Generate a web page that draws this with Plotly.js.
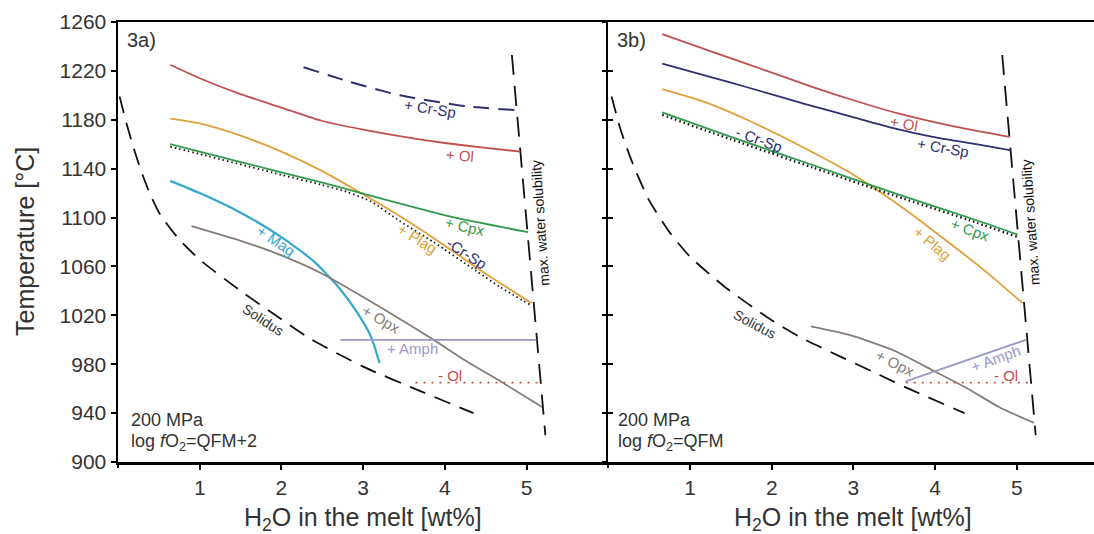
<!DOCTYPE html>
<html>
<head>
<meta charset="utf-8">
<script src="https://cdn.plot.ly/plotly-3.0.1.min.js"></script>
<style>html,body{margin:0;padding:0;background:#fff;}#chart{width:1094px;height:534px;}</style>
</head>
<body>
<div id="chart"></div>
<script>
// ---------- Panel 3a (log fO2 = QFM+2) ----------
const a_ol_x   = [0.64, 1.0, 1.5, 2.0, 2.5, 3.0, 3.5, 4.0, 4.5, 4.92];
const a_ol_t   = [1225, 1214, 1201, 1190, 1179, 1172, 1166, 1161, 1157, 1154];
const a_crsp_x = [2.27, 2.84, 3.45, 4.27, 4.86];
const a_crsp_t = [1223, 1211, 1200, 1191, 1188];
const a_plag_x = [0.64, 1.0, 1.5, 2.0, 2.5, 3.0, 3.5, 4.0, 4.5, 5.06];
const a_plag_t = [1181, 1177, 1167, 1154, 1138, 1119, 1099, 1077, 1054, 1030];
const a_cpx_x  = [0.64, 1.0, 2.0, 2.48, 2.92, 4.06, 5.02];
const a_cpx_t  = [1160, 1154, 1137, 1129, 1121, 1101, 1088];
const a_mcrsp_x = [0.64, 1.0, 2.0, 2.48, 2.8, 3.1, 3.45, 3.86, 4.39, 4.68, 5.06];
const a_mcrsp_t = [1158, 1152, 1135, 1127, 1121, 1113, 1097, 1080, 1056, 1043, 1028];
const a_mag_x  = [0.64, 1.0, 1.5, 2.0, 2.4, 2.7, 2.95, 3.1, 3.2];
const a_mag_t  = [1130, 1120, 1104, 1084, 1064, 1043, 1020, 1002, 981];
const a_opx_x  = [0.9, 1.5, 2.0, 2.5, 3.0, 3.5, 3.86, 4.3, 4.68, 5.19];
const a_opx_t  = [1093, 1081, 1069, 1054, 1035, 1015, 1000, 981, 966, 945];
const a_amph_x = [2.72, 5.12];
const a_amph_t = [1000, 1000];
const a_mol_x  = [3.64, 5.16];
const a_mol_t  = [965, 965];
const a_sol_x  = [0.02, 0.1, 0.2, 0.3, 0.4, 0.52, 0.75, 1.01, 1.5, 1.95, 2.35, 3.0, 3.7, 4.35];
const a_sol_t  = [1199, 1178, 1155, 1135, 1118, 1102, 1082, 1065, 1040, 1019, 1001, 978, 958, 940];

// ---------- Panel 3b (log fO2 = QFM) ----------
const b_ol_x   = [0.66, 1.3, 1.94, 2.45, 2.95, 3.56, 4.2, 4.91];
const b_ol_t   = [1250, 1235, 1220, 1208, 1197, 1185, 1175, 1166];
const b_crsp_x = [0.66, 1.2, 1.73, 2.4, 2.95, 3.5, 3.97, 4.5, 4.93];
const b_crsp_t = [1226, 1216, 1206, 1193, 1183, 1173, 1166, 1160, 1155];
const b_plag_x = [0.66, 1.2, 1.73, 2.34, 2.95, 3.56, 4.0, 4.58, 5.07];
const b_plag_t = [1205, 1194, 1179, 1159, 1137, 1110, 1088, 1058, 1030];
const b_cpx_x  = [0.66, 1.5, 2.5, 3.5, 4.5, 5.01];
const b_cpx_t  = [1186, 1166, 1143, 1120, 1098, 1086];
const b_mcrsp_x = [0.66, 1.5, 2.5, 3.5, 4.5, 5.01];
const b_mcrsp_t = [1184, 1164, 1141, 1118, 1096, 1084];
const b_opx_x  = [2.48, 2.95, 3.5, 3.97, 4.4, 4.78, 5.21];
const b_opx_t  = [1011, 1004, 991, 975, 960, 945, 932];
const b_amph_x = [3.64, 5.11];
const b_amph_t = [966, 1000];
const b_mol_x  = [3.64, 5.17];
const b_mol_t  = [965, 965];
const b_sol_x  = [0.04, 0.15, 0.3, 0.5, 0.75, 1.0, 1.43, 2.0, 2.38, 3.36, 3.64, 4.36];
const b_sol_t  = [1199, 1172, 1144, 1114, 1088, 1068, 1043, 1016, 1001, 970, 961, 940];

// max. water solubility (both panels)
const maxsol_x = [4.82, 5.23];
const maxsol_t = [1233, 922];

const xTickVals = [1, 2, 3, 4, 5];
const xTickText = ['1', '2', '3', '4', '5'];
const xEdgeTicks = [0, 6];
const yRange = [900, 1260];

const C = {
  ol: '#c0504d', crsp: '#2e3070', plag: '#e0a03a', cpx: '#2f9a4c',
  mag: '#34a8cc', opx: '#857b77', amph: '#9b97c9', blk: '#111111', txt: '#333333'
};
const FONT = 'Liberation Sans, Arial, Helvetica, sans-serif';

function tr(x, y, color, ax, opts) {
  opts = opts || {};
  return {
    x: x, y: y, type: 'scatter', mode: 'lines',
    xaxis: ax === 'a' ? 'x' : 'x2', yaxis: ax === 'a' ? 'y' : 'y2',
    line: {color: color, width: opts.width || 1.8, dash: opts.dash || 'solid', shape: 'spline', smoothing: 0.6},
    hoverinfo: 'skip', showlegend: false
  };
}

const traces = [
  tr(a_sol_x, a_sol_t, C.blk, 'a', {dash: '17px,10px', width: 1.8}),
  tr(maxsol_x, maxsol_t, C.blk, 'a', {dash: '20px,11px', width: 1.8}),
  tr(a_ol_x, a_ol_t, C.ol, 'a'),
  tr(a_crsp_x, a_crsp_t, C.crsp, 'a', {dash: '16px,9px', width: 2}),
  tr(a_mcrsp_x, a_mcrsp_t, C.blk, 'a', {dash: '1.5px,3px', width: 1.8}),
  tr(a_plag_x, a_plag_t, C.plag, 'a'),
  tr(a_cpx_x, a_cpx_t, C.cpx, 'a'),
  tr(a_mag_x, a_mag_t, C.mag, 'a', {width: 2.2}),
  tr(a_opx_x, a_opx_t, C.opx, 'a'),
  tr(a_amph_x, a_amph_t, C.amph, 'a'),
  tr(a_mol_x, a_mol_t, C.ol, 'a', {dash: '2px,6px', width: 1.8}),

  tr(b_sol_x, b_sol_t, C.blk, 'b', {dash: '17px,10px', width: 1.8}),
  tr(maxsol_x, maxsol_t, C.blk, 'b', {dash: '20px,11px', width: 1.8}),
  tr(b_ol_x, b_ol_t, C.ol, 'b'),
  tr(b_crsp_x, b_crsp_t, C.crsp, 'b'),
  tr(b_plag_x, b_plag_t, C.plag, 'b'),
  tr(b_mcrsp_x, b_mcrsp_t, C.blk, 'b', {dash: '1.5px,3px', width: 2.4}),
  tr(b_cpx_x, b_cpx_t, C.cpx, 'b'),
  tr(b_opx_x, b_opx_t, C.opx, 'b'),
  tr(b_amph_x, b_amph_t, C.amph, 'b'),
  tr(b_mol_x, b_mol_t, C.ol, 'b', {dash: '2px,6px', width: 1.8})
];

function lab(text, x, y, color, angle, ax, size, anchor) {
  return {
    text: text, x: x, y: y, xref: ax === 'a' ? 'x' : 'x2', yref: ax === 'a' ? 'y' : 'y2',
    showarrow: false, textangle: angle || 0, xanchor: anchor || 'center',
    font: {family: FONT, size: size || 15, color: color}
  };
}

const annotations = [
  lab('3a)', 0.08, 1245, C.txt, 0, 'a', 20, 'left'),
  lab('+ Cr-Sp', 3.82, 1189, C.crsp, 9, 'a'),
  lab('+ Ol', 4.19, 1151, C.ol, 5, 'a'),
  lab('+ Cpx', 4.25, 1093, C.cpx, 13, 'a'),
  lab('+ Plag', 3.66, 1083, C.plag, 32, 'a'),
  lab('-Cr-Sp', 4.27, 1071, C.crsp, 33, 'a'),
  lab('+ Mag', 1.93, 1081, C.mag, 34, 'a'),
  lab('Solidus', 1.78, 1016, C.txt, 33, 'a', 14),
  lab('+ Opx', 3.23, 1017, C.opx, 30, 'a'),
  lab('+ Amph', 3.6, 993, C.amph, 0, 'a'),
  lab('- Ol', 4.06, 971, C.ol, 0, 'a'),
  lab('max. water solubility', 5.17, 1096, C.blk, -94, 'a', 14),
  lab('200 MPa', 0.13, 934, C.txt, 0, 'a', 18, 'left'),
  lab('log <i>f</i>O<sub>2</sub>=QFM+2', 0.13, 916, C.txt, 0, 'a', 18, 'left'),

  lab('3b)', 0.08, 1245, C.txt, 0, 'b', 20, 'left'),
  lab('+ Ol', 3.62, 1177, C.ol, 10, 'b'),
  lab('+ Cr-Sp', 4.09, 1157, C.crsp, 10, 'b'),
  lab('- Cr-Sp', 1.85, 1164, C.crsp, 20, 'b'),
  lab('+ Cpx', 4.42, 1090, C.cpx, 20, 'b'),
  lab('+ Plag', 3.97, 1079, C.plag, 40, 'b'),
  lab('Solidus', 1.79, 1013, C.txt, 28, 'b', 14),
  lab('+ Opx', 3.52, 981, C.opx, 27, 'b'),
  lab('+ Amph', 4.74, 985, C.amph, -20, 'b'),
  lab('- Ol', 4.87, 971, C.ol, 0, 'b'),
  lab('max. water solubility', 5.17, 1096, C.blk, -94, 'b', 14),
  lab('200 MPa', 0.1, 934, C.txt, 0, 'b', 18, 'left'),
  lab('log <i>f</i>O<sub>2</sub>=QFM', 0.1, 916, C.txt, 0, 'b', 18, 'left'),

  // axis titles
  {text: 'H<sub>2</sub>O in the melt [wt%]', x: 3, y: 0, xref: 'x', yref: 'paper', yshift: -57,
   showarrow: false, xanchor: 'center', yanchor: 'middle', font: {family: FONT, size: 25, color: C.txt}},
  {text: 'H<sub>2</sub>O in the melt [wt%]', x: 3, y: 0, xref: 'x2', yref: 'paper', yshift: -57,
   showarrow: false, xanchor: 'center', yanchor: 'middle', font: {family: FONT, size: 25, color: C.txt}},
  {text: 'Temperature [°C]', x: 0, y: 0.5, xref: 'paper', yref: 'paper', xshift: -93,
   showarrow: false, textangle: -90, xanchor: 'center', yanchor: 'middle', font: {family: FONT, size: 25, color: C.txt}}
];

const axCommon = {
  type: 'linear',
  showline: true, linecolor: '#000', linewidth: 2.5, showgrid: false, zeroline: false,
  ticks: 'outside', ticklen: 5, tickwidth: 2, tickcolor: '#000',
  tickfont: {family: FONT, size: 21, color: C.txt}
};
// tick-only overlay axes (ticks at 0 and 6 without labels)
const tickOnly = {type: 'linear', showline: false, showgrid: false, zeroline: false, showticklabels: false,
  ticks: 'outside', ticklen: 5, tickwidth: 2, tickcolor: '#000', tickmode: 'array', tickvals: xEdgeTicks};

const split = (608.3 - 118) / 976;
const rightMax = (1094 - 608.3) / 81.72;

const layout = {
  width: 1094, height: 534,
  margin: {l: 118, r: 0, t: 22, b: 72},
  paper_bgcolor: '#fff', plot_bgcolor: '#fff',
  showlegend: false,
  xaxis: Object.assign({}, axCommon, {domain: [0, split], range: [0, 6], anchor: 'y', mirror: true,
    tickmode: 'array', tickvals: xTickVals, ticktext: xTickText}),
  yaxis: Object.assign({}, axCommon, {domain: [0, 1], range: yRange, anchor: 'x', tickmode: 'linear', dtick: 40, tick0: 900}),
  xaxis2: Object.assign({}, axCommon, {domain: [split, 1], range: [0, rightMax], anchor: 'y2', mirror: true,
    tickmode: 'array', tickvals: xTickVals, ticktext: xTickText}),
  yaxis2: Object.assign({}, axCommon, {domain: [0, 1], range: yRange, anchor: 'x2', tickmode: 'linear', dtick: 40, tick0: 900,
    showticklabels: false, ticklen: 4}),
  yaxis3: {type: 'linear', overlaying: 'y2', anchor: 'x2', range: yRange, tickmode: 'linear', dtick: 40, tick0: 900,
    showline: false, showgrid: false, zeroline: false, ticks: 'inside', ticklen: 5, tickwidth: 2, tickcolor: '#000',
    showticklabels: false},
  xaxis3: Object.assign({}, tickOnly, {overlaying: 'x', anchor: 'y', range: [0, 6]}),
  xaxis4: Object.assign({}, tickOnly, {overlaying: 'x2', anchor: 'y2', range: [0, rightMax]}),
  annotations: annotations
};

// empty traces that activate the tick-only overlay axes
traces.push({x: [null], y: [null], xaxis: 'x2', yaxis: 'y3', type: 'scatter', mode: 'lines', showlegend: false, hoverinfo: 'skip'});
traces.push({x: [null], y: [null], xaxis: 'x3', yaxis: 'y', type: 'scatter', mode: 'lines', showlegend: false, hoverinfo: 'skip'});
traces.push({x: [null], y: [null], xaxis: 'x4', yaxis: 'y2', type: 'scatter', mode: 'lines', showlegend: false, hoverinfo: 'skip'});

Plotly.newPlot('chart', traces, layout, {displayModeBar: false, staticPlot: true});
</script>
</body>
</html>
